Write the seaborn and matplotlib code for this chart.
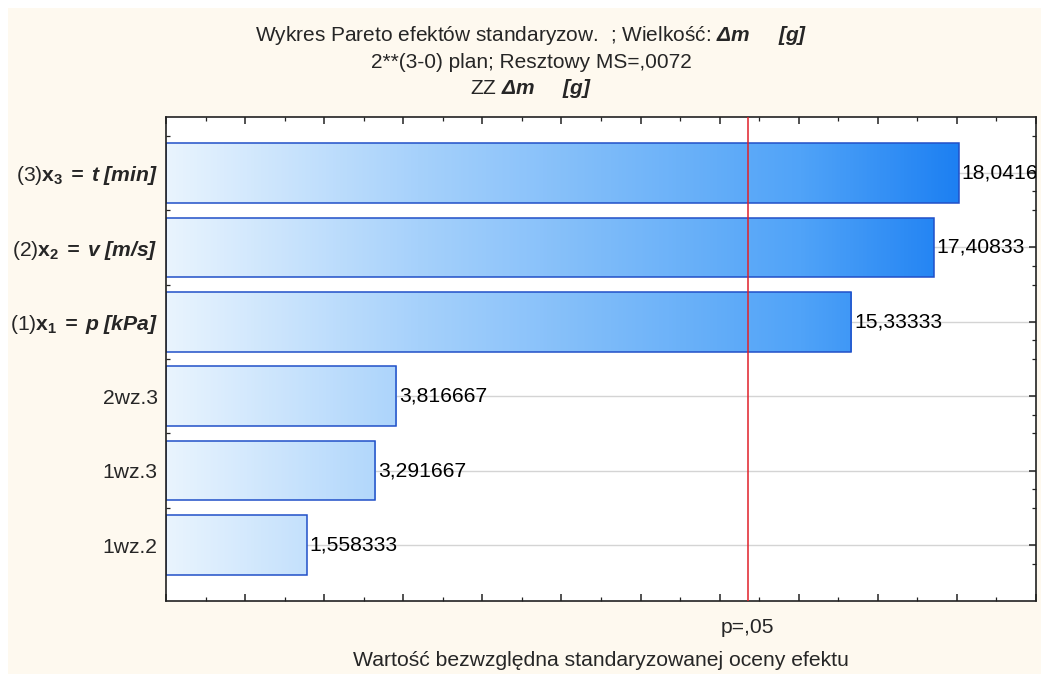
import numpy as np
import pandas as pd
import matplotlib
matplotlib.use("Agg")
import matplotlib.pyplot as plt
import seaborn as sns
from matplotlib.colors import LinearSegmentedColormap
from matplotlib.patches import Rectangle
from matplotlib.ticker import MultipleLocator, FixedLocator
import matplotlib.transforms as mtransforms

# ---- data ----
effects = [
    r"(3)$\mathbf{x_3}\mathbfit{\;{=}\;t\;[min]}$",
    r"(2)$\mathbf{x_2}\mathbfit{\;{=}\;v\;[m/s]}$",
    r"(1)$\mathbf{x_1}\mathbfit{\;{=}\;p\;[kPa]}$",
    "2wz.3",
    "1wz.3",
    "1wz.2",
]
t_values = [18.04167, 17.40833, 15.33333, 3.816667, 3.291667, 1.558333]
t_crit = 12.7062  # p=.05, df=1
x_range = [-2, 20]
title_lines = [
    r"Wykres Pareto efektów standaryzow.  ; Wielkość: $\mathbfit{Δm\ \ \ \ \ [g]}$",
    "2**(3-0) plan; Resztowy MS=,0072",
    r"ZZ $\mathbfit{Δm\ \ \ \ \ [g]}$",
]
x_label = "Wartość bezwzględna standaryzowanej oceny efektu"
p_label = "p=,05"

sns.set_theme(style="white")
plt.rcParams["font.family"] = ["Liberation Sans", "DejaVu Sans"]
plt.rcParams["mathtext.fontset"] = "custom"
plt.rcParams["mathtext.rm"] = "Liberation Sans"
plt.rcParams["mathtext.it"] = "Liberation Sans:italic"
plt.rcParams["mathtext.bf"] = "Liberation Sans:bold"
plt.rcParams["mathtext.bfit"] = "Liberation Sans:bold:italic"
plt.rcParams["mathtext.sf"] = "Liberation Sans"

FS = 15.2
FS_T = 15.0
BG = "#fef9ef"

fig = plt.figure(figsize=(10.41, 6.74), dpi=100, facecolor=BG)
fig.patches.append(Rectangle((0, 1 - 8 / 674), 1, 8 / 674, transform=fig.transFigure,
                             facecolor="white", edgecolor="none", zorder=0))
fig.patches.append(Rectangle((0, 0), 8 / 1041, 1, transform=fig.transFigure,
                             facecolor="white", edgecolor="none", zorder=0))
ax = fig.add_axes([166 / 1041, 73 / 674, 870 / 1041, 484 / 674])
ax.set_facecolor("white")

df = pd.DataFrame({"effect": effects, "t": t_values})
sns.barplot(data=df, x="t", y="effect", orient="h", width=0.8, ax=ax,
            color="white", edgecolor="#2150c8", linewidth=1.1, zorder=2)

ax.set_xlim(*x_range)
ax.set_ylim(len(effects) - 0.25, -0.75)

cmap = LinearSegmentedColormap.from_list(
    "stat", [(0.0, "#e9f4fe"), (0.29, "#a6d1fb"), (0.73, "#50a3f8"),
             (0.91, "#1d80f2"), (1.0, "#0c76ee")])
grad = np.linspace(0, 1, 512).reshape(1, -1)

for p in ax.patches:
    w = p.get_width()
    p.set_x(x_range[0])
    p.set_width(w - x_range[0])
    p.set_facecolor("none")
    im = ax.imshow(grad, cmap=cmap, aspect="auto", origin="lower",
                   extent=[x_range[0], x_range[1], p.get_y() + p.get_height(), p.get_y()],
                   zorder=1.5, interpolation="bilinear")
    im.set_clip_path(p)

ax.set_xlim(*x_range)
ax.set_ylim(len(effects) - 0.25, -0.75)

# value labels (the longest one is clipped by the frame, as in the original)
for i, v in enumerate(t_values):
    txt = ("%.7g" % v).replace(".", ",")
    ax.annotate(txt, xy=(v, i), xytext=(2, 0), textcoords="offset points",
                ha="left", va="center", fontsize=FS, color="black",
                annotation_clip=False, clip_on=True, zorder=4)

# grid lines at categories
ax.yaxis.grid(True, color="#d4d4d4", linewidth=1)
ax.set_axisbelow(True)

# critical line
ax.axvline(t_crit, color="#e0202a", linewidth=1.1, zorder=3)
trans = mtransforms.blended_transform_factory(ax.transData, ax.transAxes)
ax.text(t_crit, -0.035, p_label, transform=trans, ha="center", va="top", fontsize=FS)

# ticks
ax.xaxis.set_major_locator(MultipleLocator(2))
ax.xaxis.set_minor_locator(MultipleLocator(1))
ax.set_xticklabels([])
ax.set_yticks(range(len(effects)))
ax.set_yticklabels(effects, fontsize=FS)
minor_y = [-0.5] + [i + 0.25 for i in range(len(effects))] + [i + 0.5 for i in range(len(effects) - 1)]
ax.yaxis.set_minor_locator(FixedLocator(minor_y))
ax.tick_params(axis="both", which="both", direction="in", top=True, right=True,
               bottom=True, left=True, color="#222222")
ax.tick_params(axis="both", which="major", length=5, width=1.1)
ax.tick_params(axis="both", which="minor", length=3, width=0.9)
ax.tick_params(axis="y", which="major", pad=6)
ax.set_xlabel("")
ax.set_ylabel("")
for s in ax.spines.values():
    s.set_color("#222222")
    s.set_linewidth(1.2)
    s.set_visible(True)

fig.text(0.5 * (166 + 1036) / 1041, 14 / 674, x_label, ha="center", va="center", fontsize=FS)

for k, line in enumerate(title_lines):
    fig.text(531 / 1041, 1 - (35.5 + 26.5 * k) / 674, line, ha="center", va="center", fontsize=FS_T)

fig.savefig("out.png", dpi=100, facecolor=BG)
